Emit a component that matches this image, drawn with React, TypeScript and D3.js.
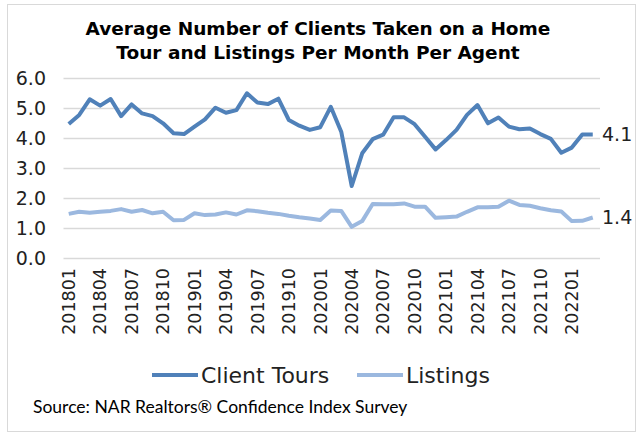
import React from "react";
import * as d3 from "d3";

const months: string[] = [];
for (let y = 2018; y <= 2022; y++) {
  for (let m = 1; m <= 12; m++) {
    months.push(`${y}${m < 10 ? "0" + m : m}`);
  }
}
const categories = months.slice(0, 51); // 201801..202203

const clientTours = [
  4.48, 4.78, 5.3, 5.09, 5.31, 4.74, 5.13, 4.83, 4.74, 4.5,
  4.17, 4.14, 4.39, 4.63, 5.02, 4.85, 4.94, 5.5, 5.19, 5.14,
  5.32, 4.61, 4.42, 4.28, 4.37, 5.05, 4.22, 2.41, 3.5, 3.97,
  4.12, 4.7, 4.7, 4.47, 4.05, 3.63, 3.94, 4.28, 4.78, 5.11,
  4.5, 4.69, 4.39, 4.3, 4.33, 4.14, 3.98, 3.52, 3.69, 4.13,
  4.13,
];

const listings = [
  1.48, 1.55, 1.52, 1.55, 1.58, 1.64, 1.55, 1.61, 1.5, 1.55,
  1.27, 1.28, 1.5, 1.44, 1.46, 1.53, 1.46, 1.6, 1.57, 1.52,
  1.48, 1.42, 1.37, 1.33, 1.28, 1.59, 1.58, 1.05, 1.24, 1.81,
  1.8, 1.8, 1.83, 1.72, 1.72, 1.35, 1.37, 1.39, 1.55, 1.7,
  1.7, 1.72, 1.92, 1.78, 1.75, 1.67, 1.6, 1.56, 1.24, 1.25,
  1.36,
];

const yTicks = [0, 1, 2, 3, 4, 5, 6];
const titleLines = [
  "Average Number of Clients Taken on a Home",
  "Tour and Listings Per Month Per Agent",
];
const seriesNames = ["Client Tours", "Listings"];
const endLabels = ["4.1", "1.4"];
const source = "Source: NAR Realtors® Confidence Index Survey";

const W = 640;
const H = 437;
const colors = ["#5081b9", "#9bb8df"];
const FONT = "'DejaVu Sans', sans-serif";

export default function App() {
  const x = d3
    .scaleBand<string>()
    .domain(categories)
    .range([63.5, 598]);
  const y = d3.scaleLinear().domain([0, 6]).range([258.3, 78.3]);
  const cx = (d: string) => (x(d) as number) + x.bandwidth() / 2;

  const line = d3
    .line<number>()
    .x((_, i) => cx(categories[i]))
    .y((v) => y(v));

  const tickCats = categories.filter((_, i) => i % 3 === 0);
  const series = [clientTours, listings];

  return (
    <svg
      width={W}
      height={H}
      style={{ position: "absolute", left: 0, top: 0, background: "#fff" }}
    >
      <rect x={7.5} y={4.5} width={628} height={427} fill="#fff" stroke="#d9d9d9" />
      {titleLines.map((t, i) => (
        <text
          key={i}
          x={318}
          y={35 + i * 24}
          textAnchor="middle"
          fontFamily={FONT}
          fontWeight="bold"
          fontSize={18.5}
          fill="#000"
        >
          {t}
        </text>
      ))}
      {yTicks.map((t) => (
        <g key={t}>
          <line
            x1={63.5}
            x2={600}
            y1={Math.round(y(t)) + 0.5}
            y2={Math.round(y(t)) + 0.5}
            stroke="#d9d9d9"
            strokeWidth={1.3}
          />
          <text
            x={46}
            y={y(t)}
            dy="0.36em"
            textAnchor="end"
            fontFamily={FONT}
            fontSize={19}
            fill="#222"
          >
            {t.toFixed(1)}
          </text>
        </g>
      ))}
      {tickCats.map((c) => (
        <text
          key={c}
          transform={`translate(${cx(c)},268) rotate(-90)`}
          textAnchor="end"
          dy="0.36em"
          fontFamily={FONT}
          fontSize={17.5}
          fill="#222"
        >
          {c}
        </text>
      ))}
      {series.map((s, i) => (
        <path
          key={i}
          d={line(s) as string}
          fill="none"
          stroke={colors[i]}
          strokeWidth={4}
          strokeLinejoin="round"
        />
      ))}
      {series.map((s, i) => (
        <text
          key={i}
          x={602}
          y={y(s[s.length - 1])}
          dy="0.36em"
          fontFamily={FONT}
          fontSize={19}
          fill="#222"
        >
          {endLabels[i]}
        </text>
      ))}
      {seriesNames.map((n, i) => {
        const lx = i === 0 ? 152 : 357;
        return (
          <g key={n}>
            <line
              x1={lx}
              x2={lx + 46}
              y1={375}
              y2={375}
              stroke={colors[i]}
              strokeWidth={4}
            />
            <text
              x={lx + 49}
              y={375}
              dy="0.36em"
              fontFamily={FONT}
              fontSize={22}
              fill="#222"
            >
              {n}
            </text>
          </g>
        );
      })}
      <text
        x={33}
        y={413}
        fontFamily="Lato, 'Open Sans', sans-serif"
        fontSize={17.5}
        fill="#000"
      >
        {source}
      </text>
    </svg>
  );
}
